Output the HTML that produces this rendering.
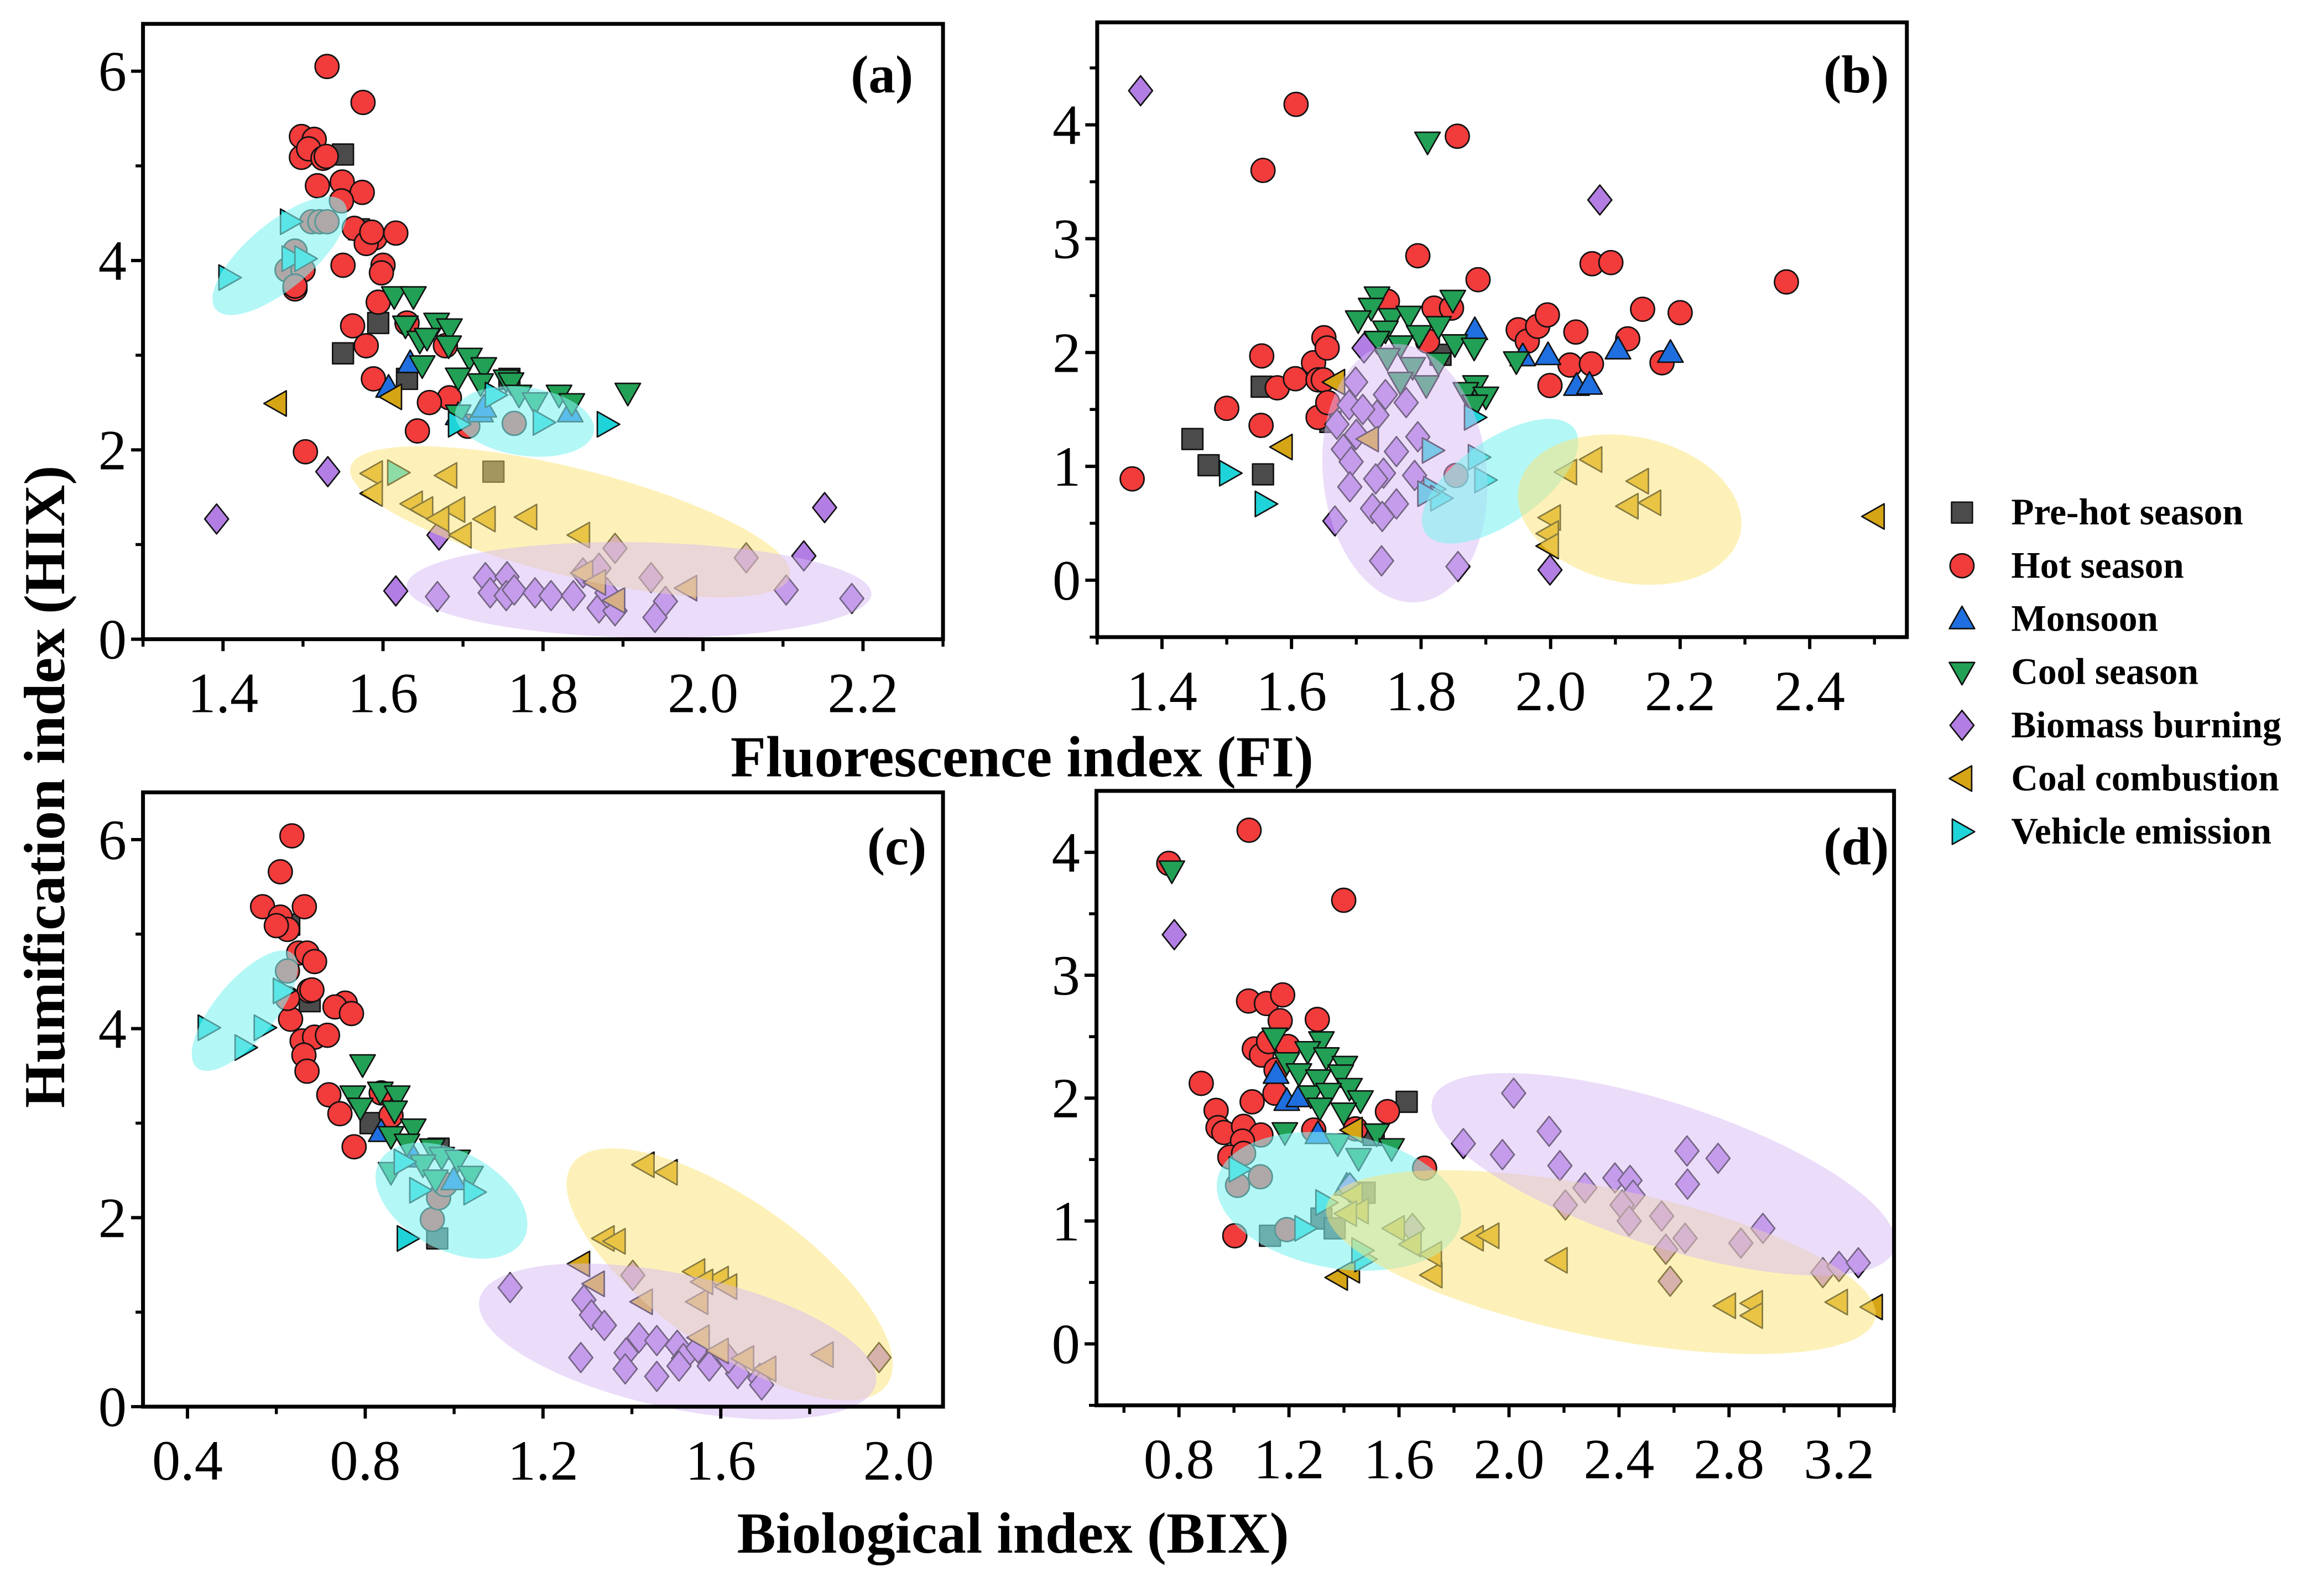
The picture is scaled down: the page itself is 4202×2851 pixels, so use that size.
<!DOCTYPE html>
<html><head><meta charset="utf-8"><style>
html,body{margin:0;padding:0;background:#fff;}
svg{display:block;font-family:"Liberation Serif","Times New Roman",serif;}
svg text{font-family:"Liberation Serif","Times New Roman",serif;}
</style></head><body>
<svg id="chart" xmlns="http://www.w3.org/2000/svg" width="4202" height="2851" viewBox="0 0 1560 1058.4" font-family="Liberation Serif, serif">
<rect x="0" y="0" width="1560" height="1058.4" fill="#fff"/>
<g id="plots"></g>
<text x="686" y="521" text-anchor="middle" font-size="39" font-weight="bold" font-family="Liberation Serif, serif">Fluorescence index (FI)</text>
<text x="680" y="1042" text-anchor="middle" font-size="39" font-weight="bold" font-family="Liberation Serif, serif">Biological index (BIX)</text>
<text transform="translate(43,528) rotate(-90)" text-anchor="middle" font-size="39" font-weight="bold" font-family="Liberation Serif, serif">Humification index (HIX)</text>
<g id="legend"></g>
</svg>
<script>
const NS="http://www.w3.org/2000/svg";
const FONT="Liberation Serif, serif";
const seriesNames=["Pre-hot season","Hot season","Monsoon","Cool season","Biomass burning","Coal combustion","Vehicle emission"];
const seriesKeys=["prehot","hot","monsoon","cool","biomass","coal","vehicle"];
const seriesColors={prehot:"#4b4b4b",hot:"#f23b3b",monsoon:"#1f6fe0",cool:"#22a055",biomass:"#b27ee3",coal:"#d6a516",vehicle:"#1ed4d8"};
const seriesShapes={prehot:"square",hot:"circle",monsoon:"up",cool:"down",biomass:"diamond",coal:"left",vehicle:"right"};

// Panel (a): FI vs HIX
const a_prehot=[[1.55,5.12],[1.57,4.33],[1.594,3.34],[1.55,3.02],[1.63,2.75],[1.738,1.77],[1.758,2.75]];
const a_hot=[[1.53,6.05],[1.575,5.67],[1.498,5.31],[1.514,5.28],[1.498,5.09],[1.507,5.18],[1.525,5.08],[1.529,5.1],[1.518,4.79],[1.549,4.83],[1.574,4.72],[1.548,4.63],[1.564,4.34],[1.59,4.24],[1.579,4.18],[1.616,4.29],[1.586,4.3],[1.55,3.95],[1.6,3.95],[1.598,3.87],[1.594,3.56],[1.562,3.31],[1.579,3.1],[1.63,3.34],[1.588,2.75],[1.678,3.1],[1.683,2.55],[1.658,2.5],[1.643,2.2],[1.503,1.98],[1.49,3.7],[1.706,2.25],[1.511,4.41],[1.521,4.41],[1.53,4.41],[1.49,4.1],[1.48,3.9],[1.5,3.9],[1.49,3.73],[1.764,2.28]];
const a_monsoon=[[1.634,2.92],[1.607,2.66],[1.722,2.4],[1.834,2.4],[1.694,2.37],[1.726,2.45]];
const a_cool=[[1.614,3.62],[1.638,3.62],[1.628,3.31],[1.667,3.34],[1.683,3.28],[1.646,3.15],[1.655,3.18],[1.682,3.1],[1.649,2.89],[1.708,2.97],[1.726,2.87],[1.694,2.76],[1.722,2.7],[1.754,2.74],[1.76,2.71],[1.77,2.58],[1.82,2.58],[1.836,2.49],[1.906,2.6],[1.694,2.37],[1.79,2.5]];
const a_biomass=[[1.392,1.27],[1.531,1.77],[2.152,1.39],[1.616,0.51],[1.668,0.45],[2.126,0.88],[2.104,0.52],[2.186,0.43],[1.728,0.65],[1.755,0.66],[1.734,0.49],[1.754,0.46],[1.764,0.52],[1.79,0.49],[1.81,0.46],[1.838,0.46],[1.85,0.7],[1.87,0.75],[1.89,0.96],[1.87,0.33],[1.89,0.3],[1.935,0.65],[1.953,0.4],[1.94,0.23],[2.054,0.86],[1.67,1.1],[1.88,0.49]];
const a_coal=[[1.467,2.49],[1.611,2.56],[1.587,1.75],[1.68,1.73],[1.587,1.54],[1.637,1.43],[1.65,1.37],[1.69,1.37],[1.67,1.27],[1.728,1.27],[1.78,1.29],[1.698,1.1],[1.846,1.1],[1.85,0.7],[1.866,0.6],[1.89,0.41],[1.98,0.54]];
const a_vehicle=[[1.407,3.82],[1.484,4.41],[1.486,4.02],[1.502,4.02],[1.74,2.58],[1.8,2.29],[1.88,2.27],[1.618,1.76],[1.694,2.27]];

// Panel (b): FI vs HIX
const b_prehot=[[1.447,1.24],[1.472,1.01],[1.556,0.93],[1.554,1.7],[1.83,1.98],[1.66,1.39]];
const b_hot=[[1.354,0.89],[1.5,1.51],[1.556,3.6],[1.607,4.18],[1.554,1.97],[1.553,1.36],[1.578,1.69],[1.606,1.77],[1.634,1.91],[1.641,1.76],[1.65,2.13],[1.655,2.04],[1.649,1.76],[1.641,1.43],[1.656,1.56],[1.748,2.45],[1.795,2.85],[1.82,2.39],[1.847,2.39],[1.81,2.1],[1.856,3.9],[1.888,2.64],[1.95,2.2],[1.964,2.1],[1.98,2.23],[1.995,2.33],[1.999,1.71],[2.03,1.89],[2.039,2.18],[2.064,2.78],[2.093,2.79],[2.063,1.9],[2.119,2.12],[2.142,2.38],[2.172,1.91],[2.2,2.35],[2.364,2.62],[1.854,0.92]];
const b_monsoon=[[1.883,2.2],[1.957,1.97],[1.996,1.98],[2.04,1.71],[2.06,1.72],[2.104,2.03],[2.185,2.0]];
const b_cool=[[1.81,3.85],[1.732,2.49],[1.723,2.39],[1.703,2.28],[1.754,2.3],[1.781,2.32],[1.745,2.19],[1.797,2.15],[1.768,2.06],[1.732,2.1],[1.827,2.23],[1.849,2.46],[1.852,2.07],[1.882,2.04],[1.827,1.91],[1.748,1.95],[1.787,1.87],[1.808,1.71],[1.768,1.74],[1.884,1.71],[1.869,1.65],[1.9,1.61],[1.883,1.54],[1.947,1.92]];
const b_biomass=[[1.367,4.3],[2.076,3.34],[1.999,0.09],[1.667,0.52],[1.739,0.17],[1.857,0.12],[1.712,2.04],[1.699,1.74],[1.745,1.63],[1.777,1.56],[1.689,1.54],[1.732,1.45],[1.71,1.5],[1.67,1.37],[1.68,1.15],[1.7,1.28],[1.795,1.26],[1.762,1.13],[1.692,1.04],[1.742,0.94],[1.79,0.92],[1.69,0.82],[1.73,0.89],[1.725,0.63],[1.762,0.67],[1.74,0.56]];
const b_coal=[[1.667,1.74],[1.586,1.17],[1.719,1.24],[2.025,0.95],[2.064,1.06],[2.0,0.55],[1.997,0.41],[1.997,0.3],[2.136,0.87],[2.12,0.65],[2.155,0.68],[2.5,0.56]];
const b_vehicle=[[1.504,0.94],[1.559,0.67],[1.882,1.43],[1.817,1.14],[1.888,1.08],[1.898,0.88],[1.819,0.8],[1.83,0.72],[1.81,0.76]];

// Panel (c): BIX vs HIX
const c_prehot=[[0.629,5.1],[0.675,4.29],[0.812,3.0],[0.962,1.78],[0.965,2.73]];
const c_hot=[[0.635,6.04],[0.609,5.66],[0.569,5.29],[0.663,5.29],[0.609,5.18],[0.625,5.05],[0.6,5.09],[0.65,4.8],[0.669,4.8],[0.686,4.71],[0.674,4.4],[0.68,4.41],[0.755,4.27],[0.732,4.23],[0.769,4.16],[0.632,4.1],[0.658,3.87],[0.686,3.91],[0.715,3.93],[0.662,3.72],[0.669,3.55],[0.718,3.3],[0.743,3.1],[0.775,2.75],[0.836,3.32],[0.858,3.08],[0.625,4.61],[0.625,4.32],[0.951,1.98],[0.965,2.21],[0.98,2.35]];
const c_monsoon=[[0.836,2.91],[0.999,2.4],[0.908,2.64]];
const c_cool=[[0.794,3.62],[0.772,3.29],[0.834,3.33],[0.872,3.29],[0.789,3.16],[0.866,3.13],[0.858,2.86],[0.908,2.94],[0.894,2.78],[0.951,2.73],[0.972,2.64],[0.93,2.56],[1.008,2.61],[1.037,2.44],[0.858,2.48],[0.958,2.4]];
const c_biomass=[[1.126,1.26],[1.292,1.13],[1.309,0.97],[1.338,0.86],[1.285,0.52],[1.416,0.73],[1.456,0.7],[1.387,0.57],[1.385,0.4],[1.456,0.32],[1.502,0.65],[1.516,0.51],[1.506,0.43],[1.574,0.43],[1.638,0.35],[1.688,0.3],[1.692,0.23],[1.402,1.39],[1.617,0.51],[1.956,0.52],[1.549,0.62]];
const c_coal=[[1.428,2.56],[1.48,2.48],[1.283,1.51],[1.316,1.3],[1.338,1.78],[1.363,1.75],[1.424,1.11],[1.542,1.43],[1.549,1.11],[1.595,1.35],[1.614,1.27],[1.56,1.32],[1.552,0.73],[1.595,0.59],[1.652,0.51],[1.702,0.4],[1.831,0.55]];
const c_vehicle=[[0.446,4.01],[0.529,3.8],[0.572,4.01],[0.615,4.4],[0.887,2.59],[0.922,2.29],[1.044,2.27],[0.894,1.78]];

// Panel (d): BIX vs HIX
const d_prehot=[[1.628,1.97],[1.508,1.7],[1.131,0.88],[1.318,1.02],[1.366,0.94],[1.475,1.23]];
const d_hot=[[0.763,3.91],[1.055,4.18],[1.399,3.61],[1.053,2.79],[1.118,2.77],[1.177,2.84],[1.168,2.63],[1.303,2.64],[1.074,2.4],[1.1,2.35],[1.126,2.46],[1.196,2.42],[1.153,2.23],[0.881,2.12],[0.935,1.9],[1.066,1.97],[1.149,2.04],[0.942,1.76],[0.963,1.72],[1.035,1.77],[1.098,1.7],[1.031,1.65],[0.985,1.52],[1.558,1.89],[1.693,1.43],[1.003,0.88],[1.29,1.74],[1.442,1.75],[1.035,1.55],[1.096,1.36],[1.013,1.29],[1.192,0.93]];
const d_monsoon=[[1.153,2.2],[1.192,1.98],[1.236,2.01],[1.305,1.71],[1.41,1.29]];
const d_cool=[[0.774,3.85],[1.148,2.49],[1.318,2.46],[1.268,2.38],[1.336,2.33],[1.192,2.29],[1.236,2.2],[1.403,2.26],[1.307,2.15],[1.388,2.19],[1.42,2.08],[1.279,2.02],[1.344,2.04],[1.46,1.98],[1.399,1.88],[1.312,1.92],[1.185,1.72],[1.519,1.71],[1.573,1.59],[1.377,1.63],[1.453,1.51]];
const d_biomass=[[0.783,3.33],[2.017,2.04],[1.834,1.63],[1.976,1.54],[2.146,1.73],[2.185,1.45],[2.276,1.27],[2.385,1.35],[2.44,1.33],[2.451,1.21],[2.647,1.57],[2.76,1.51],[2.649,1.3],[2.205,1.13],[2.411,1.13],[2.437,1.0],[2.555,1.04],[2.64,0.86],[2.57,0.77],[2.586,0.51],[2.843,0.82],[2.923,0.94],[3.141,0.58],[3.2,0.63],[3.27,0.66],[1.421,1.27],[1.649,0.94]];
const d_coal=[[1.431,1.74],[1.377,0.54],[1.421,0.6],[1.721,0.56],[1.871,0.86],[1.928,0.88],[2.176,0.68],[2.788,0.31],[2.886,0.33],[2.886,0.23],[3.195,0.34],[3.322,0.3],[1.584,0.94],[1.645,0.81],[1.719,0.73],[1.431,1.21],[1.453,1.08],[1.41,1.06]];
const d_vehicle=[[1.018,1.42],[1.257,0.94],[1.333,1.15],[1.475,0.69],[1.464,0.76]];

// Confidence ellipses: centre in data units
const a_ellipseCenters=[[1.471,4.05],[1.777,2.3],[1.834,1.24],[1.92,0.52]];
const b_ellipseCenters=[[1.775,0.94],[1.922,0.87],[2.122,0.62]];
const c_ellipseCenters=[[0.529,4.19],[0.994,2.18],[1.62,1.4],[1.503,0.69]];
const d_ellipseCenters=[[1.382,1.16],[2.334,0.665],[2.562,1.38]];

const ELL={cyan:{fill:"rgb(130,242,242)",op:0.6},yellow:{fill:"rgb(252,228,115)",op:0.5},lav:{fill:"rgb(215,185,245)",op:0.5}};

const panels=[
 {id:"a",label:"(a)",lx:592,ly:62,x0:96,x1:633,y0:16,y1:429,xmin:1.3,xmax:2.3,ymin:0,ymax:6.5,xt:[1.4,1.6,1.8,2.0,2.2],xm:[1.3,1.5,1.7,1.9,2.1,2.3],yt:[0,2,4,6],ym:[1,3,5],
  data:{prehot:a_prehot,hot:a_hot,monsoon:a_monsoon,cool:a_cool,biomass:a_biomass,coal:a_coal,vehicle:a_vehicle},
  ell:a_ellipseCenters,es:[["cyan",56,22,-40],["cyan",47,23,8],["yellow",152,36,14],["lav",156,32,1]]},
 {id:"b",label:"(b)",lx:1246,ly:62,x0:736.5,x1:1280,y0:15,y1:427.6,xmin:1.3,xmax:2.55,ymin:-0.5,ymax:4.9,xt:[1.4,1.6,1.8,2.0,2.2,2.4],xm:[1.3,1.5,1.7,1.9,2.1,2.3,2.5],yt:[0,1,2,3,4],ym:[-0.5,0.5,1.5,2.5,3.5,4.5],
  data:{prehot:b_prehot,hot:b_hot,monsoon:b_monsoon,cool:b_cool,biomass:b_biomass,coal:b_coal,vehicle:b_vehicle},
  ell:b_ellipseCenters,es:[["lav",55,87,-6],["cyan",61,28,-35],["yellow",76,49,12]]},
 {id:"c",label:"(c)",lx:602,ly:580,x0:96,x1:633,y0:531.8,y1:944.1,xmin:0.3,xmax:2.1,ymin:0,ymax:6.5,xt:[0.4,0.8,1.2,1.6,2.0],xm:[0.6,1.0,1.4,1.8],yt:[0,2,4,6],ym:[1,3,5],
  data:{prehot:c_prehot,hot:c_hot,monsoon:c_monsoon,cool:c_cool,biomass:c_biomass,coal:c_coal,vehicle:c_vehicle},
  ell:c_ellipseCenters,es:[["cyan",50,20,-50],["cyan",55,33,28],["yellow",129,50,35],["lav",136,45,12]]},
 {id:"d",label:"(d)",lx:1246,ly:580,x0:736,x1:1271.4,y0:530.8,y1:943.2,xmin:0.5,xmax:3.4,ymin:-0.5,ymax:4.5,xt:[0.8,1.2,1.6,2.0,2.4,2.8,3.2],xm:[0.6,1.0,1.4,1.8,2.2,2.6,3.0,3.4],yt:[0,1,2,3,4],ym:[-0.5,0.5,1.5,2.5,3.5],
  data:{prehot:d_prehot,hot:d_hot,monsoon:d_monsoon,cool:d_cool,biomass:d_biomass,coal:d_coal,vehicle:d_vehicle},
  ell:d_ellipseCenters,es:[["cyan",83,45,10],["yellow",188,50,11.5],["lav",163,48,18]]}
];

function mk(tag,attrs,parent){const e=document.createElementNS(NS,tag);for(const k in attrs)e.setAttribute(k,attrs[k]);parent.appendChild(e);return e;}
function shapePath(s,x,y){
 if(s==="square")return `M${x-7},${y-7}h14v14h-14z`;
 if(s==="up")return `M${x},${y-8.5}L${x+8.5},${y+6.5}L${x-8.5},${y+6.5}Z`;
 if(s==="down")return `M${x},${y+8.5}L${x+8.5},${y-6.5}L${x-8.5},${y-6.5}Z`;
 if(s==="left")return `M${x-8.5},${y}L${x+6.5},${y-8.5}L${x+6.5},${y+8.5}Z`;
 if(s==="right")return `M${x+8.5},${y}L${x-6.5},${y-8.5}L${x-6.5},${y+8.5}Z`;
 if(s==="diamond")return `M${x},${y-10}L${x+8},${y}L${x},${y+10}L${x-8},${y}Z`;
 return "";
}
function marker(parent,key,x,y){
 const s=seriesShapes[key],c=seriesColors[key];
 if(s==="circle")return mk("circle",{cx:x,cy:y,r:8,fill:c,stroke:"#111","stroke-width":1},parent);
 return mk("path",{d:shapePath(s,x,y),fill:c,stroke:"#111","stroke-width":1,"stroke-linejoin":"round"},parent);
}

const root=document.getElementById("plots");
panels.forEach(p=>{
 const sx=v=>p.x0+(v-p.xmin)/(p.xmax-p.xmin)*(p.x1-p.x0);
 const sy=v=>p.y1-(v-p.ymin)/(p.ymax-p.ymin)*(p.y1-p.y0);
 const g=mk("g",{},root);
 
 
 seriesKeys.forEach(k=>{
  const sg=mk("g",{},g);
  
  
  p.data[k].forEach(pt=>{
   const m=marker(sg,k,sx(pt[0]),sy(pt[1]));
   
   
  });
 });
 p.ell.forEach((c,i)=>{
  const st=p.es[i],E=ELL[st[0]];
  const cx=sx(c[0]),cy=sy(c[1]);
  const e=mk("ellipse",{cx:cx,cy:cy,rx:st[1],ry:st[2],fill:E.fill,"fill-opacity":E.op,transform:`rotate(${st[3]} ${cx} ${cy})`},g);
  
  
 });
 const fr=mk("rect",{x:p.x0,y:p.y0,width:p.x1-p.x0,height:p.y1-p.y0,fill:"none",stroke:"#000","stroke-width":2.6},g);
 
 
 p.xt.forEach(v=>{
  const x=sx(v);
  mk("line",{x1:x,x2:x,y1:p.y1,y2:p.y1+8,stroke:"#000","stroke-width":2.2},g);
  const t=mk("text",{x:x,y:p.y1+49,"text-anchor":"middle","font-size":38,"font-family":FONT},g);
  t.textContent=v.toFixed(1);
  
  
 });
 p.xm.forEach(v=>{const x=sx(v);mk("line",{x1:x,x2:x,y1:p.y1,y2:p.y1+5,stroke:"#000","stroke-width":2},g);});
 p.yt.forEach(v=>{
  const y=sy(v);
  mk("line",{x1:p.x0,x2:p.x0-8,y1:y,y2:y,stroke:"#000","stroke-width":2.2},g);
  const t=mk("text",{x:p.x0-11,y:y+13,"text-anchor":"end","font-size":38,"font-family":FONT},g);
  t.textContent=String(v);
  
  
 });
 p.ym.forEach(v=>{const y=sy(v);mk("line",{x1:p.x0,x2:p.x0-5,y1:y,y2:y,stroke:"#000","stroke-width":2},g);});
 const lb=mk("text",{x:p.lx,y:p.ly,"text-anchor":"middle","font-size":36,"font-weight":"bold","font-family":FONT},g);
 lb.textContent=p.label;
 
 
});

const lg=document.getElementById("legend");
seriesKeys.forEach((k,i)=>{
 const y=344+i*35.7;
 const item=mk("g",{},lg);
 
 
 marker(item,k,1317,y);
 const t=mk("text",{x:1350,y:y+8,"font-size":25,"font-weight":"bold","font-family":FONT},item);
 t.textContent=seriesNames[i];
});
</script>
</body></html>
